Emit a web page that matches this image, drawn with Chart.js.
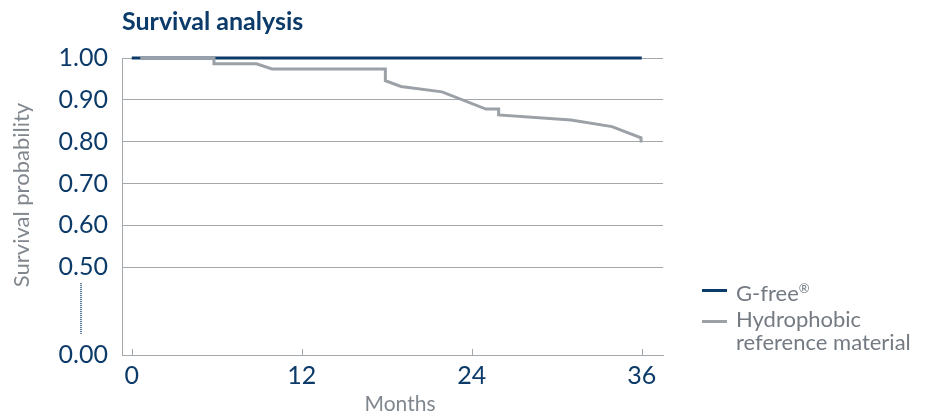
<!DOCTYPE html>
<html lang="en">
<head>
    <meta charset="UTF-8" />
    <title>Survival analysis</title>
    <script src="https://cdn.jsdelivr.net/npm/chart.js"></script>
    <style>
        body { margin: 0; background: #fff; }
        #wrap { position: relative; width: 928px; height: 414px; }
        .legend { position: absolute; left: 702px; font-family: Lato, sans-serif; font-size: 22px; color: #737a82; line-height: 23px; white-space: nowrap; }
        .legend .swatch { position: absolute; left: 0; width: 25px; height: 3px; }
        .legend .txt { margin-left: 34px; }
    </style>
</head>
<body>
    <div id="wrap">
        <canvas id="survivalChart" width="928" height="414"></canvas>
        <div class="legend" style="top: 277px;">
            <div class="swatch" style="top: 12px; background: #0c3b69;"></div>
            <div class="txt">G-free<sup style="font-size: 13px;">®</sup></div>
        </div>
        <div class="legend" style="top: 307px;">
            <div class="swatch" style="top: 13px; background: #9ba1a7;"></div>
            <div class="txt">Hydrophobic<br>reference material</div>
        </div>
    </div>

    <script>
        const xTicks = [0, 12, 24, 36];
        const yTicks = [0, 0.5, 0.6, 0.7, 0.8, 0.9, 1.0];

        const gfreeMonths = [0, 36];
        const gfreeSurvival = [1.0, 1.0];

        const refMonths = [0.6, 5.8, 5.8, 8.8, 9.9, 17.9, 17.9, 19.0, 21.9, 25.0, 25.9, 25.9, 31.0, 33.9, 35.95, 35.95];
        const refSurvival = [1.0, 1.0, 0.986, 0.986, 0.974, 0.974, 0.946, 0.932, 0.919, 0.878, 0.878, 0.864, 0.852, 0.836, 0.809, 0.798];

        // the axis is broken between 0.00 and 0.50, so 0 sits here on the scale
        const breakPos = 0.29;
        const toScale = v => (v === 0 ? breakPos : v);

        const navy = '#0c3b69';
        const grey = '#9ba1a7';
        const gridGrey = '#a3a8ad';
        const labelGrey = '#80878e';

        const decor = {
            id: 'decor',
            afterDraw(chart) {
                const ctx = chart.ctx;
                const x = chart.scales.x;
                const y = chart.scales.y;
                const area = chart.chartArea;
                ctx.save();

                // small inward ticks on the month axis
                ctx.strokeStyle = gridGrey;
                ctx.lineWidth = 1;
                xTicks.forEach(t => {
                    const px = Math.round(x.getPixelForValue(t)) + 0.5;
                    ctx.beginPath();
                    ctx.moveTo(px, area.bottom - 6);
                    ctx.lineTo(px, area.bottom);
                    ctx.stroke();
                });

                // dotted break marker
                ctx.strokeStyle = navy;
                ctx.lineWidth = 1.5;
                ctx.setLineDash([1, 1]);
                ctx.beginPath();
                ctx.moveTo(81, y.getPixelForValue(0.5) + 16);
                ctx.lineTo(81, y.getPixelForValue(breakPos) - 21);
                ctx.stroke();
                ctx.setLineDash([]);

                // title
                ctx.fillStyle = navy;
                ctx.font = 'bold 25px Lato';
                ctx.textAlign = 'left';
                ctx.textBaseline = 'alphabetic';
                ctx.fillText('Survival analysis', area.left, 30);

                // axis titles
                ctx.fillStyle = labelGrey;
                ctx.font = '21px Lato';
                ctx.textAlign = 'center';
                ctx.fillText('Months', 400, 411);

                ctx.translate(29, 195);
                ctx.rotate(-Math.PI / 2);
                ctx.font = '22px Lato';
                ctx.fillText('Survival probability', 0, 0);
                ctx.restore();
            }
        };

        new Chart(document.getElementById('survivalChart'), {
            type: 'line',
            data: {
                datasets: [
                    {
                        label: 'Hydrophobic reference material',
                        data: refMonths.map((m, i) => ({ x: m, y: refSurvival[i] })),
                        borderColor: grey,
                        borderWidth: 3,
                        pointRadius: 0,
                        tension: 0,
                        clip: false
                    },
                    {
                        label: 'G-free®',
                        data: gfreeMonths.map((m, i) => ({ x: m, y: gfreeSurvival[i] })),
                        borderColor: navy,
                        borderWidth: 3,
                        pointRadius: 0,
                        tension: 0,
                        clip: false
                    }
                ]
            },
            options: {
                responsive: false,
                animation: false,
                events: [],
                layout: { padding: { top: 58, right: 265, left: 0, bottom: 0 } },
                plugins: {
                    legend: { display: false },
                    tooltip: { enabled: false }
                },
                scales: {
                    x: {
                        type: 'linear',
                        min: -0.69,
                        max: 37.5,
                        afterBuildTicks: scale => { scale.ticks = xTicks.map(v => ({ value: v })); },
                        afterFit: scale => { scale.height = 59; },
                        grid: { display: false, drawTicks: false },
                        border: { color: gridGrey, width: 1 },
                        ticks: { color: navy, font: { family: 'Lato', size: 25 }, padding: 6 }
                    },
                    y: {
                        min: breakPos,
                        max: 1.0,
                        afterBuildTicks: scale => { scale.ticks = yTicks.map(v => ({ value: toScale(v) })); },
                        afterFit: scale => { scale.width = 122; },
                        grid: { color: gridGrey, lineWidth: 1, drawTicks: false },
                        border: { color: gridGrey, width: 1 },
                        ticks: {
                            color: navy,
                            font: { family: 'Lato', size: 25 },
                            padding: 14,
                            callback: v => (v === breakPos ? '0.00' : v.toFixed(2))
                        }
                    }
                }
            },
            plugins: [decor]
        });
    </script>
</body>
</html>
